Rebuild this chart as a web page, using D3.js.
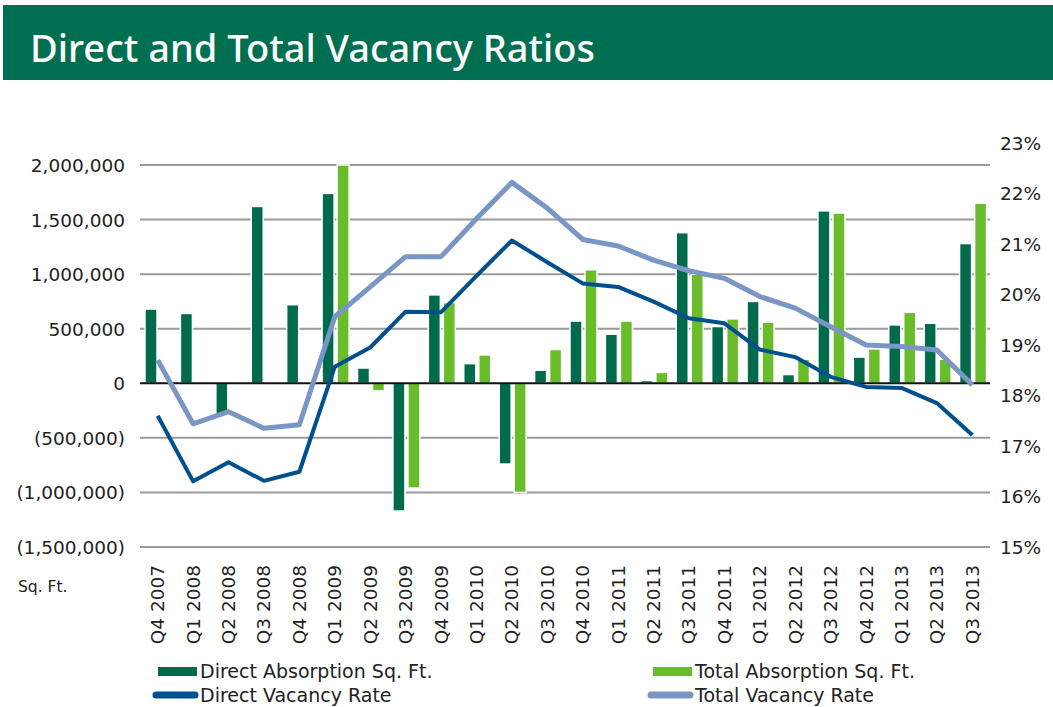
<!DOCTYPE html>
<html>
<head>
<meta charset="utf-8">
<script src="https://d3js.org/d3.v7.min.js"></script>
<style>
	body { margin: 0; background: #fff; }
	svg text { font-family: 'DejaVu Sans', 'Liberation Sans', Arial, sans-serif; fill: #222; }
	svg text.title { font-family: 'Noto Sans', sans-serif; fill: #fff; }
</style>
</head>
<body>
<div id="chart"></div>
<script>
/* global d3 */

var quarters = ['Q4 2007', 'Q1 2008', 'Q2 2008', 'Q3 2008', 'Q4 2008', 'Q1 2009', 'Q2 2009', 'Q3 2009',
	'Q4 2009', 'Q1 2010', 'Q2 2010', 'Q3 2010', 'Q4 2010', 'Q1 2011', 'Q2 2011', 'Q3 2011',
	'Q4 2011', 'Q1 2012', 'Q2 2012', 'Q3 2012', 'Q4 2012', 'Q1 2013', 'Q2 2013', 'Q3 2013'];

var directAbsorption = [680000, 640000, -290000, 1620000, 720000, 1740000, 140000, -1170000,
	810000, 180000, -740000, 120000, 570000, 450000, 25000, 1380000,
	520000, 750000, 80000, 1580000, 240000, 535000, 550000, 1280000];

var totalAbsorption = [null, null, null, null, null, 2000000, -70000, -960000,
	740000, 260000, -1000000, 310000, 1040000, 570000, 100000, 1000000,
	590000, 560000, 220000, 1560000, 315000, 650000, 220000, 1650000];

var directVacancy = [17.6, 16.3, 16.68, 16.31, 16.49, 18.57, 18.95, 19.66,
	19.65, 20.37, 21.07, 20.64, 20.22, 20.15, 19.86, 19.53,
	19.43, 18.91, 18.76, 18.37, 18.17, 18.15, 17.85, 17.22];

var totalVacancy = [18.7, 17.44, 17.68, 17.35, 17.42, 19.56, 20.15, 20.75,
	20.75, 21.5, 22.22, 21.71, 21.09, 20.96, 20.68, 20.47,
	20.32, 19.96, 19.73, 19.36, 19.0, 18.97, 18.9, 18.21];

var leftTicks = [2000000, 1500000, 1000000, 500000, 0, -500000, -1000000, -1500000];
var rightTicks = [15, 16, 17, 18, 19, 20, 21, 22, 23];

var buildComboChart = function (el) {
	'use strict';

	function ComboChart (el) {
		this.scales = this.setScales();
		this.svg    = this.buildSVG(el);
		this.addTitle();
		this.addGrid();
		this.addAxes();
		this.addBars();
		this.addLines();
		this.addLegend();
	}

	ComboChart.prototype = {
		width: 1053,
		height: 707,
		fontSize: '18.5px',
		plot: { left: 140, right: 990, top: 165, bottom: 547 },
		colors: {
			direct: '#006b4b',
			total: '#6abd2a',
			directRate: '#00508f',
			totalRate: '#7a96c4',
			band: '#006e50'
		},

		setScales: function () {
			return {
				x: d3.scaleBand().domain(quarters).range([this.plot.left, this.plot.right]).padding(0),
				y: d3.scaleLinear().domain([-1500000, 2000000]).range([this.plot.bottom, this.plot.top]),
				r: d3.scaleLinear().domain([15, 23]).range([this.plot.bottom, 143])
			};
		},

		buildSVG: function (el) {
			return d3.select(el).append('svg')
						.attr('width', this.width)
						.attr('height', this.height);
		},

		addTitle: function () {
			this.svg.append('rect')
				.attr('x', 3).attr('y', 5)
				.attr('width', this.width - 3).attr('height', 75)
				.attr('fill', this.colors.band);
			this.svg.append('text')
				.attr('class', 'title')
				.attr('x', 30).attr('y', 62)
				.style('font-size', '38px')
				.style('font-weight', 500)
				.text('Direct and Total Vacancy Ratios');
		},

		addGrid: function () {
			var that = this;
			this.svg.append('g').selectAll('line')
				.data(leftTicks.filter(function (d) { return d !== 0; }))
				.enter().append('line')
					.attr('x1', this.plot.left).attr('x2', this.plot.right)
					.attr('y1', function (d) { return that.scales.y(d); })
					.attr('y2', function (d) { return that.scales.y(d); })
					.attr('stroke', '#9a9a9a')
					.attr('stroke-width', 2);
		},

		addAxes: function () {
			var fmt = d3.format(',');
			var fs = this.fontSize;
			var left = this.svg.append('g')
				.attr('transform', 'translate(' + (this.plot.left - 15) + ',0)')
				.call(d3.axisLeft(this.scales.y).tickValues(leftTicks).tickSize(0).tickPadding(0)
					.tickFormat(function (d) { return d < 0 ? '(' + fmt(-d) + ')' : fmt(d); }));
			left.select('.domain').remove();
			left.selectAll('text').style('font-size', fs).attr('dy', '0.35em');

			var right = this.svg.append('g')
				.attr('transform', 'translate(' + (this.plot.right + 10) + ',0)')
				.call(d3.axisRight(this.scales.r).tickValues(rightTicks).tickSize(0).tickPadding(0)
					.tickFormat(function (d) { return d + '%'; }));
			right.select('.domain').remove();
			right.selectAll('text').style('font-size', fs).attr('dy', '0.35em');

			var bottom = this.svg.append('g')
				.attr('transform', 'translate(0,' + (this.plot.bottom + 14) + ')')
				.call(d3.axisBottom(this.scales.x).tickSize(0).tickPadding(0));
			bottom.select('.domain').remove();
			bottom.selectAll('text')
				.style('font-size', fs)
				.attr('text-anchor', 'end')
				.attr('dy', '0.35em')
				.attr('transform', 'rotate(-90)')
				.attr('x', -4).attr('y', 0);

			this.svg.append('text')
				.attr('x', 18).attr('y', 592)
				.style('font-size', '15.5px')
				.text('Sq. Ft.');
		},

		addBars: function () {
			var that = this;
			var bw = 12;
			var g = this.svg.append('g');
			var rows = quarters.map(function (q, i) {
				return { q: q, direct: directAbsorption[i], total: totalAbsorption[i] };
			});

			function bar (key, offset, color) {
				g.selectAll('.' + key)
					.data(rows.filter(function (d) { return d[key] !== null; }))
					.enter().append('rect')
						.attr('class', key)
						.attr('x', function (d) { return that.scales.x(d.q) + offset; })
						.attr('width', bw)
						.attr('y', function (d) { return that.scales.y(Math.max(0, d[key])); })
						.attr('height', function (d) { return Math.abs(that.scales.y(d[key]) - that.scales.y(0)); })
						.attr('fill', color)
						.attr('stroke', '#fff')
						.attr('stroke-width', 1.5);
			}
			bar('direct', 5, this.colors.direct);
			bar('total', 20, this.colors.total);

			this.svg.append('line')
				.attr('x1', this.plot.left).attr('x2', this.plot.right)
				.attr('y1', this.scales.y(0)).attr('y2', this.scales.y(0))
				.attr('stroke', '#111')
				.attr('stroke-width', 2);
		},

		addLines: function () {
			var that = this;
			var line = d3.line()
				.x(function (d, i) { return that.scales.x(quarters[i]) + that.scales.x.bandwidth() / 2; })
				.y(function (d) { return that.scales.r(d); });

			this.svg.append('path')
				.attr('d', line(totalVacancy))
				.attr('fill', 'none')
				.attr('stroke', this.colors.totalRate)
				.attr('stroke-width', 5)
				.attr('stroke-linejoin', 'round');

			this.svg.append('path')
				.attr('d', line(directVacancy))
				.attr('fill', 'none')
				.attr('stroke', this.colors.directRate)
				.attr('stroke-width', 4)
				.attr('stroke-linejoin', 'round');
		},

		addLegend: function () {
			var items = [
				{ label: 'Direct Absorption Sq. Ft.', color: this.colors.direct, type: 'rect', x: 158, y: 671 },
				{ label: 'Total Absorption Sq. Ft.', color: this.colors.total, type: 'rect', x: 653, y: 671 },
				{ label: 'Direct Vacancy Rate', color: this.colors.directRate, type: 'line', x: 158, y: 695 },
				{ label: 'Total Vacancy Rate', color: this.colors.totalRate, type: 'line', x: 653, y: 695 }
			];

			var legend = this.svg.append('g').attr('class', 'legend');
			var item = legend.selectAll('g')
				.data(items)
				.enter().append('g')
					.attr('transform', function (d) { return 'translate(' + d.x + ',' + d.y + ')'; });

			item.filter(function (d) { return d.type === 'rect'; })
				.append('rect')
					.attr('x', 0).attr('y', -4)
					.attr('width', 39).attr('height', 9)
					.attr('fill', function (d) { return d.color; });

			item.filter(function (d) { return d.type === 'line'; })
				.append('line')
					.attr('x1', -2).attr('x2', 37)
					.attr('y1', 0).attr('y2', 0)
					.attr('stroke', function (d) { return d.color; })
					.attr('stroke-width', 7)
					.attr('stroke-linecap', 'round');

			item.append('text')
				.attr('x', 42).attr('y', 0)
				.attr('dy', '0.35em')
				.style('font-size', '19px')
				.text(function (d) { return d.label; });
		}
	};

	return new ComboChart(el);
};

buildComboChart('#chart');
</script>
</body>
</html>
